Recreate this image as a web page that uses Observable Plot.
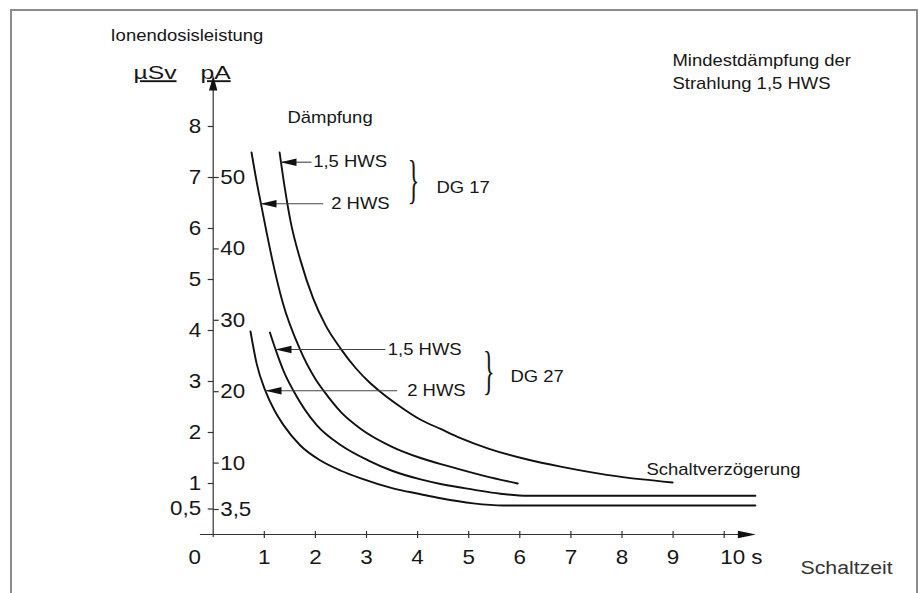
<!DOCTYPE html>
<html>
<head>
<meta charset="utf-8">
<script src="https://cdn.jsdelivr.net/npm/d3@7"></script>
<script src="https://cdn.jsdelivr.net/npm/@observablehq/plot@0.6"></script>
<style>
  html, body { margin: 0; padding: 0; background: #fff; }
  #wrap { position: relative; width: 918px; height: 593px; overflow: hidden; }
  #frame { position: absolute; left: 10px; top: 8.5px; width: 908px; height: 640px;
           border: 2px solid #8c8c8c; box-sizing: border-box; pointer-events: none; }
</style>
</head>
<body>
<div id="wrap"><div id="chart"></div><div id="frame"></div></div>
<script>
// ---------- data ----------
// Schaltzeit in s, Ionendosisleistung in µSv
const timeDG17_15 = [1.30, 1.40, 1.51, 1.71, 1.96, 2.20, 2.49, 2.80, 3.04, 3.27, 3.60, 4.06, 4.45, 4.84, 5.40, 6.15, 6.80, 7.70, 8.40, 8.99];
const doseDG17_15 = [7.49, 6.80, 6.16, 5.37, 4.62, 4.10, 3.65, 3.25, 3.00, 2.80, 2.55, 2.25, 2.07, 1.89, 1.68, 1.47, 1.33, 1.17, 1.08, 1.02];

const timeDG17_2 = [0.75, 0.85, 0.93, 1.05, 1.16, 1.36, 1.69, 2.00, 2.16, 2.50, 2.89, 3.50, 4.06, 4.60, 5.30, 5.96];
const doseDG17_2 = [7.49, 6.92, 6.51, 5.90, 5.37, 4.55, 3.65, 3.05, 2.82, 2.40, 2.07, 1.72, 1.50, 1.34, 1.15, 1.00];

const timeDG27_15 = [1.11, 1.22, 1.38, 1.57, 2.03, 2.50, 3.04, 3.50, 4.06, 4.45, 5.09, 5.62, 6.15, 10.61];
const doseDG27_15 = [3.96, 3.63, 3.20, 2.82, 2.14, 1.75, 1.45, 1.25, 1.08, 0.99, 0.88, 0.80, 0.76, 0.76];

const timeDG27_2 = [0.73, 0.85, 1.02, 1.20, 1.38, 1.70, 2.10, 2.50, 2.89, 3.50, 4.06, 4.45, 5.09, 5.68, 10.61];
const doseDG27_2 = [3.98, 3.35, 2.82, 2.43, 2.14, 1.75, 1.45, 1.25, 1.10, 0.91, 0.79, 0.71, 0.61, 0.57, 0.57];

const curveNames = ["DG 17 / 1,5 HWS", "DG 17 / 2 HWS", "DG 27 / 1,5 HWS", "DG 27 / 2 HWS"];

// axis ticks
const xTickValues = [0, 1, 2, 3, 4, 5, 6, 7, 8, 9, 10];
const xTickLabels = ["0", "1", "2", "3", "4", "5", "6", "7", "8", "9", "10 s"];
const yLeftTicks = [0.5, 1, 2, 3, 4, 5, 6, 7, 8];
const yLeftLabels = ["0,5", "1", "2", "3", "4", "5", "6", "7", "8"];
const pATicks = [3.5, 10, 20, 30, 40, 50];
const pALabels = ["3,5", "10", "20", "30", "40", "50"];
const pAToSv = 0.14; // 50 pA ≙ 7 µSv

// annotation arrows (tip on the curve, tail at the label)
const arrowLabels = ["1,5 HWS", "2 HWS", "1,5 HWS", "2 HWS"];
const arrowTipTime = [1.317, 0.926, 1.219, 1.023];
const arrowTailTime = [1.924, 2.153, 3.372, 3.601];
const arrowDose = [7.30, 6.484, 3.627, 2.818];
const arrowLabelTime = [1.957, 2.309, 3.417, 3.796];

// ---------- build tables ----------
const series = [
  [timeDG17_15, doseDG17_15], [timeDG17_2, doseDG17_2],
  [timeDG27_15, doseDG27_15], [timeDG27_2, doseDG27_2]
];
const curveRows = series.flatMap(([ts, ds], k) => ts.map((t, i) => ({curve: curveNames[k], t, d: ds[i]})));
const arrowRows = arrowLabels.map((label, i) => ({
  label, tip: arrowTipTime[i], tail: arrowTailTime[i], d: arrowDose[i], lt: arrowLabelTime[i]
}));

// ---------- custom symbols ----------
const headLeft = {draw(c) { c.moveTo(0, 0); c.lineTo(16, -3.8); c.lineTo(16, 3.8); c.closePath(); }};
const headUp = {draw(c) { c.moveTo(0, 0); c.lineTo(-4.2, 15); c.lineTo(4.2, 15); c.closePath(); }};
const headRight = {draw(c) { c.moveTo(0, 0); c.lineTo(-18, -3.8); c.lineTo(-18, 3.8); c.closePath(); }};
const tickLeft = {draw(c) { c.moveTo(-5.5, 0); c.lineTo(0, 0); }};
const tickRight = {draw(c) { c.moveTo(0, 0); c.lineTo(5.5, 0); }};
const tickV = {draw(c) { c.moveTo(0, -3.5); c.lineTo(0, 3.5); }};

const FONT = "Liberation Sans, Arial, Helvetica, sans-serif";
const INK = "#161616";
const AX = "#333";

const svg = Plot.plot({
  width: 918,
  height: 593,
  marginLeft: 212.7,
  marginRight: 194.3,
  marginTop: 126,
  marginBottom: 59,
  x: {domain: [0, 10], axis: null},
  y: {domain: [0, 8], axis: null},
  style: {background: "white", overflow: "visible", fontFamily: FONT},
  marks: [
    // axes
    Plot.ruleX([0], {x: () => 0, y1: -0.06, y2: 8.75, stroke: AX, strokeWidth: 1.2}),
    Plot.ruleY([0], {y: () => 0, x1: -0.25, x2: 10.45, stroke: AX, strokeWidth: 1.2}),
    Plot.dot([0], {x: () => 0, y: () => 9.0, symbol: headUp, fill: "#111", stroke: "none"}),
    Plot.dot([0], {x: () => 10.62, y: () => 0, symbol: headRight, fill: "#111", stroke: "none"}),
    Plot.dot(xTickValues.filter(v => v > 0), {x: d => d, y: () => 0, symbol: tickV, fill: "none", stroke: AX, strokeWidth: 1.2}),
    Plot.dot(yLeftTicks, {x: () => 0, y: d => d, symbol: tickLeft, fill: "none", stroke: AX, strokeWidth: 1.2}),
    Plot.dot(pATicks, {x: () => 0, y: d => d * pAToSv, symbol: tickRight, fill: "none", stroke: AX, strokeWidth: 1.2}),

    // tick labels
    Plot.text(yLeftTicks, {x: () => 0, y: d => d, text: (d, i) => yLeftLabels[i], textAnchor: "end", lineAnchor: "middle", dx: -12, fontSize: 20, fill: INK}),
    Plot.text(pATicks, {x: () => 0, y: d => d * pAToSv, text: (d, i) => pALabels[i], textAnchor: "start", lineAnchor: "middle", dx: 7, fontSize: 20, fill: INK}),
    Plot.text(xTickValues.filter(v => v > 0 && v < 10), {x: d => d, y: () => -0.569, text: d => xTickLabels[xTickValues.indexOf(d)], textAnchor: "middle", lineAnchor: "bottom", fontSize: 20, fill: INK}),
    Plot.text([0], {x: d => d, y: () => -0.569, text: () => xTickLabels[0], textAnchor: "middle", lineAnchor: "bottom", dx: -18.5, fontSize: 20, fill: INK}),
    Plot.text([10], {x: d => d, y: () => -0.569, text: () => xTickLabels[10], textAnchor: "start", lineAnchor: "bottom", dx: -4, fontSize: 20, fill: INK}),

    // curves
    Plot.line(curveRows, {x: "t", y: "d", z: "curve", stroke: "#111", strokeWidth: 1.9, curve: "monotone-x"}),

    // annotation arrows and labels
    Plot.link(arrowRows, {x1: "tip", x2: "tail", y1: "d", y2: "d", stroke: "#444", strokeWidth: 1.1}),
    Plot.dot(arrowRows, {x: "tip", y: "d", symbol: headLeft, fill: "#111", stroke: "none"}),
    Plot.text(arrowRows, {x: "lt", y: "d", text: "label", textAnchor: "start", lineAnchor: "middle", fontSize: 16.2, fill: INK}),

    // braces
    Plot.text([{t: 3.92, d: 6.94}, {t: 5.393, d: 3.205}], {x: "t", y: "d", text: () => "}", textAnchor: "middle", lineAnchor: "middle", fontSize: 30, fontFamily: "Liberation Serif, Times New Roman, serif", fill: INK}),
    Plot.text([{t: 4.37, d: 6.804, s: "DG 17"}, {t: 5.818, d: 3.098, s: "DG 27"}], {x: "t", y: "d", text: "s", textAnchor: "start", lineAnchor: "middle", fontSize: 16.2, fill: INK}),

    // other texts
    Plot.text([
      {t: -2.01, d: 9.667, s: "Ionendosisleistung"},
      {t: 1.454, d: 8.059, s: "Dämpfung"},
      {t: 8.988, d: 9.196, s: "Mindestdämpfung der"},
      {t: 8.988, d: 8.739, s: "Strahlung 1,5 HWS"},
      {t: 8.48, d: 1.176, s: "Schaltverzögerung"}
    ], {x: "t", y: "d", text: "s", textAnchor: "start", lineAnchor: "bottom", fontSize: 16.2, fill: INK}),
    Plot.text([{t: 11.493, d: -0.784, s: "Schaltzeit"}], {x: "t", y: "d", text: "s", textAnchor: "start", lineAnchor: "bottom", fontSize: 18.5, fill: "#333"}),
    Plot.text([{t: -1.56, d: 8.941, s: "µSv"}, {t: -0.249, d: 8.941, s: "pA"}], {x: "t", y: "d", text: "s", textAnchor: "start", lineAnchor: "bottom", fontSize: 19, fill: INK})
  ]
});

// widen the lettering horizontally like the reference print
svg.querySelectorAll("text").forEach(t => {
  const txt = t.textContent;
  const size = parseFloat(t.parentNode.getAttribute("font-size")) || 16;
  let sx = size >= 19.5 ? 1.12 : size >= 18 ? 1.15 : 1.14, sy = 1;
  if (txt === "}") { sx = 0.8; sy = 1.75; }
  else if (txt === "µSv" || txt === "pA") { sx = 1.3; t.style.textDecoration = "underline"; }
  const tr = t.getAttribute("transform");
  if (tr) t.setAttribute("transform", `${tr} scale(${sx},${sy})`);
});

document.getElementById("chart").appendChild(svg);
</script>
</body>
</html>
